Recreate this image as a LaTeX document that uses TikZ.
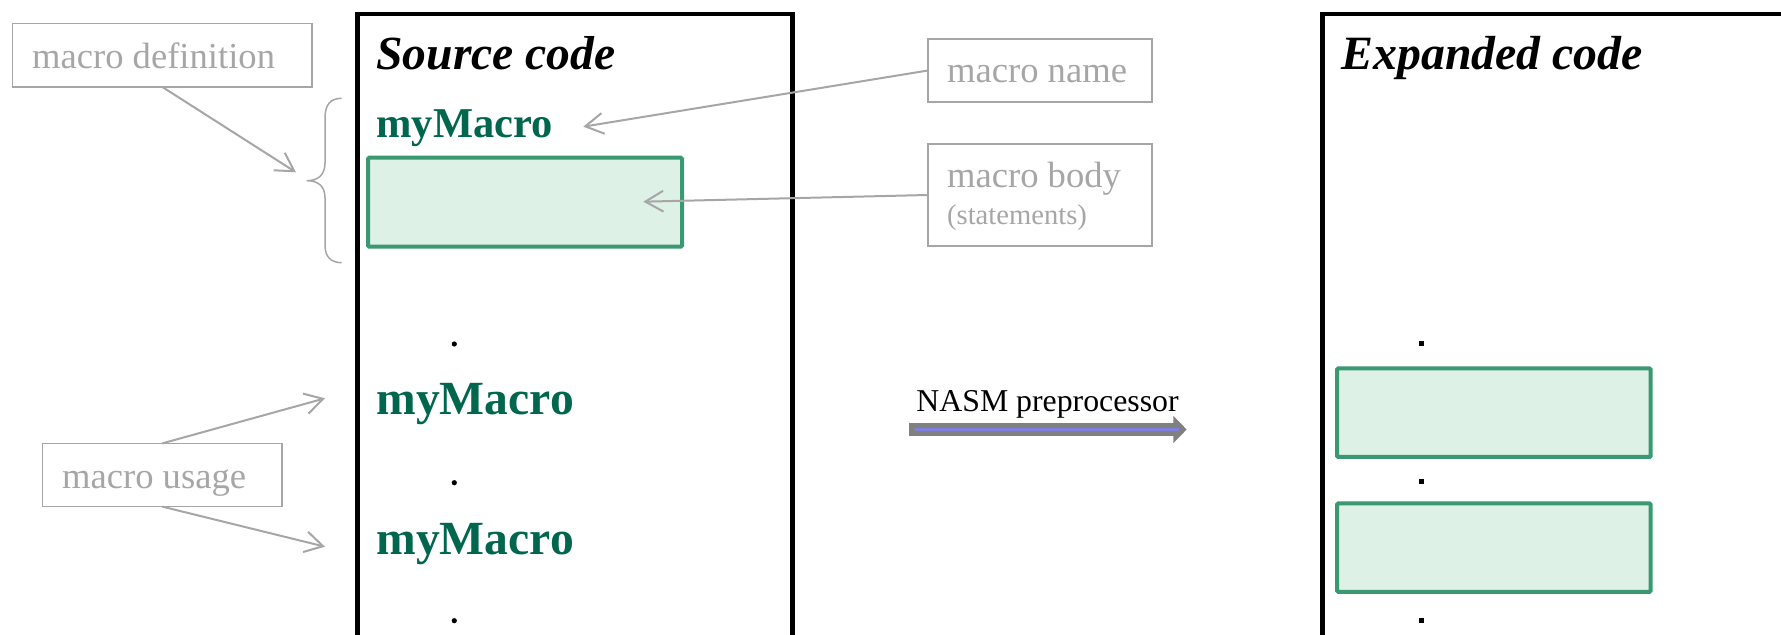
\documentclass[tikz,border=0pt]{standalone}
\usepackage{fontspec}
\newfontfamily\tnr{Liberation Serif}
\usetikzlibrary{arrows.meta}
\definecolor{lgray}{HTML}{A6A6A6}
\definecolor{mgreen}{HTML}{00664D}
\definecolor{bgreen}{HTML}{3A9970}
\definecolor{fgreen}{HTML}{DDF1E7}
\definecolor{agray}{HTML}{808080}
\definecolor{ablue}{HTML}{7F7FE0}
\newcommand{\fsz}[1]{\fontsize{#1}{1.2\dimexpr#1\relax}\selectfont}
\begin{document}
\begin{tikzpicture}[x=0.5pt,y=-0.5pt,
  lbox/.style={draw=lgray, line width=0.75pt, inner sep=0pt, outer sep=0pt, anchor=north west},
  ltext/.style={text=lgray, font=\tnr\fsz{18.3pt}, anchor=base west, inner sep=0pt},
  ptr/.style={draw=lgray, line width=1pt, -{Straight Barb[length=9pt,width=10.4pt]}},
  codebox/.style={draw=black, line width=2.25pt, inner sep=0pt, outer sep=0pt, anchor=north west, minimum height=350pt},
  bodybox/.style={draw=bgreen, fill=fgreen, line width=2pt, inner sep=0pt, outer sep=0pt, rounded corners=0.6pt, anchor=north west, minimum width=157pt, minimum height=44.5pt},
  mac/.style={text=mgreen, anchor=base west, inner sep=0pt},
  rdot/.style={circle, fill=black, inner sep=0pt, minimum size=2.6pt},
  sdot/.style={rectangle, fill=black, inner sep=0pt, minimum size=2.5pt},
  title/.style={anchor=base west, inner sep=0pt}
]
\useasboundingbox (0,0) rectangle (1781,635);
\clip (0,0) rectangle (1781,635);

% code boxes
\node[codebox, minimum width=217.5pt] (src) at (357.5,14) {};
\node[codebox, minimum width=300pt] (exp) at (1322.7,13.8) {};

% titles
\node[title, font=\tnr\bfseries\itshape\fsz{23.8pt}] (srcT) at (376,70) {Source code};
\node[title, font=\tnr\bfseries\itshape\fsz{23.9pt}] (expT) at (1341,70) {Expanded code};

% source contents
\node[mac, font=\tnr\bfseries\fsz{21.25pt}] (mm1) at (376,138) {myMacro};
\node[bodybox] (sb) at (368,157.7) {};
\node[rdot] (d1) at (454.3,344) {};
\node[mac, font=\tnr\bfseries\fsz{23.8pt}] (mm2) at (376,415) {myMacro};
\node[rdot] (d2) at (454.3,482.7) {};
\node[mac, font=\tnr\bfseries\fsz{23.8pt}] (mm3) at (376,554) {myMacro};
\node[rdot] (d3) at (454.3,620.7) {};

% expanded contents
\node[sdot] (e1) at (1421,344) {};
\node[bodybox, minimum width=156.85pt, minimum height=44.2pt] (eb1) at (1337,368.5) {};
\node[sdot] (e2) at (1421,482) {};
\node[bodybox, minimum width=156.85pt, minimum height=44.2pt] (eb2) at (1337,503.4) {};
\node[sdot] (e3) at (1421,620) {};

% label boxes
\node[lbox, minimum width=149.65pt, minimum height=31.8pt] (mdef) at (12.7,23.4) {};
\node[ltext] (mdefT) at (31.7,68.3) {macro definition};
\node[lbox, minimum width=119.8pt, minimum height=31.6pt] (muse) at (42.4,443.4) {};
\node[ltext] (museT) at (61.7,488.3) {macro usage};
\node[lbox, minimum width=112pt, minimum height=31.5pt] (mname) at (928,39) {};
\node[ltext] (mnameT) at (946.7,82.7) {macro name};
\node[lbox, minimum width=112pt, minimum height=51pt] (mbody) at (928,144) {};
\node[ltext] (mbodyT) at (946.7,188) {macro body};
\node[ltext, font=\tnr\fsz{14.3pt}] (mbodyS) at (946.7,225) {(statements)};

% brace
\draw[lgray, line width=0.75pt] (341.7,98.3) .. controls (331,98.3) and (325,104) .. (325,118)
  -- (325,163) .. controls (325,175) and (318,180.7) .. (306.7,180.7)
  .. controls (318,180.7) and (325,186) .. (325,198)
  -- (325,245) .. controls (325,257) and (331,262.7) .. (341.7,262.7);

% pointers
\coordinate (tDef) at (296,172.3);
\coordinate (tUse1) at (325,398.3);
\coordinate (tUse2) at (325,546.7);
\coordinate (tName) at (583.3,126.7);
\coordinate (tBody) at (643.3,201.7);
\draw[ptr] (mdef.south) -- (tDef);
\draw[ptr] (muse.north) -- (tUse1);
\draw[ptr] (muse.south) -- (tUse2);
\draw[ptr] (mname.west) -- (tName);
\draw[ptr] (mbody.west) -- (tBody);

% NASM arrow
\coordinate (nasmA) at (909.3,429.5);
\coordinate (nasmB) at (1186.7,429.5);
\draw[agray, line width=6.2pt, -{Triangle[length=6.7pt,width=13.3pt]}] (nasmA) -- (nasmB);
\draw[ablue, line width=1.5pt] ([xshift=2.85pt]nasmA) -- ([xshift=-3.85pt]nasmB);
\node[title, font=\tnr\fsz{15.9pt}] (nasmL) at (916,411.7) {NASM preprocessor};
\end{tikzpicture}
\end{document}
